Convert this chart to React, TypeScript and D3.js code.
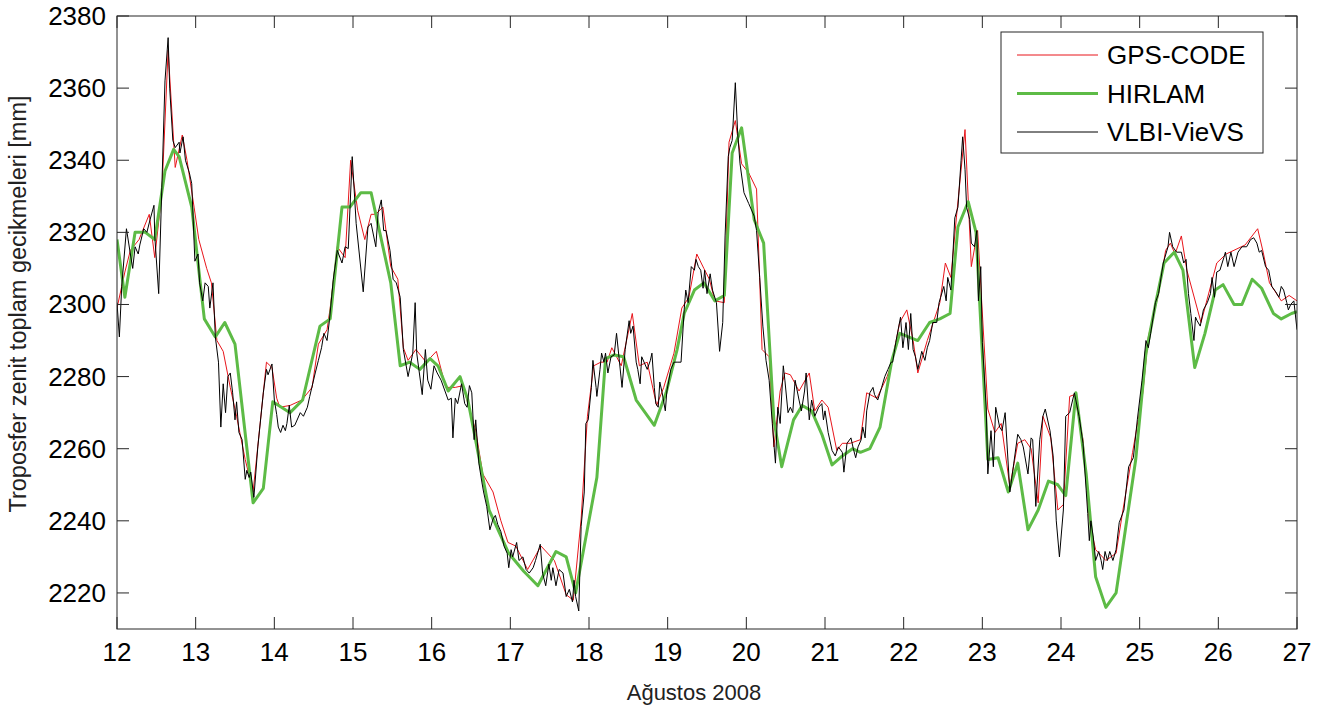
import * as d3 from 'd3'

// Ağustos 2008 — gün (ondalık) ve ZTD [mm]
const xTicks = d3.range(12, 28)
const yTicks = d3.range(2220, 2381, 20)

const gpsCode: [number, number][] = [
  [12.0, 2299], [12.1, 2309], [12.17, 2315], [12.28, 2318], [12.41, 2325], [12.48, 2313], [12.57, 2331],
  [12.65, 2370.5], [12.74, 2338], [12.83, 2347], [12.89, 2340], [12.98, 2327], [13.04, 2318], [13.14, 2310],
  [13.2, 2306], [13.27, 2290], [13.35, 2287], [13.44, 2277], [13.52, 2269], [13.63, 2257], [13.73, 2248],
  [13.9, 2284], [13.97, 2282.5], [14.03, 2274], [14.07, 2271.5], [14.2, 2272], [14.35, 2273.5], [14.48, 2277],
  [14.56, 2289], [14.67, 2293], [14.71, 2299], [14.8, 2316], [14.9, 2313], [14.97, 2340], [15.06, 2326],
  [15.15, 2318], [15.23, 2325], [15.29, 2325], [15.38, 2327], [15.48, 2310.5], [15.57, 2307], [15.64, 2288],
  [15.7, 2284.5], [15.8, 2287.5], [15.93, 2284], [16.06, 2287], [16.18, 2277], [16.3, 2277], [16.4, 2277.5],
  [16.46, 2272.5], [16.56, 2265], [16.65, 2253], [16.78, 2248], [16.88, 2240], [16.97, 2234], [17.07, 2233],
  [17.22, 2226.5], [17.39, 2233], [17.56, 2229], [17.71, 2219.5], [17.8, 2218], [17.9, 2240.5], [17.98, 2269],
  [18.06, 2283], [18.15, 2284], [18.23, 2284], [18.29, 2288], [18.41, 2283], [18.55, 2297.5], [18.64, 2283],
  [18.74, 2284], [18.86, 2272], [18.95, 2277], [19.08, 2286.5], [19.18, 2299], [19.27, 2302], [19.37, 2314],
  [19.46, 2310], [19.53, 2307], [19.6, 2301], [19.72, 2300.5], [19.78, 2345], [19.86, 2351], [19.94, 2339],
  [20.03, 2336.5], [20.13, 2332], [20.2, 2287.5], [20.29, 2285.5], [20.35, 2260.5], [20.43, 2276], [20.49, 2281],
  [20.56, 2280.5], [20.67, 2276], [20.8, 2281], [20.87, 2270.5], [20.96, 2273.5], [21.04, 2271.5], [21.15, 2259.5],
  [21.22, 2261.5], [21.32, 2261.5], [21.45, 2262.5], [21.53, 2275.5], [21.66, 2274], [21.79, 2280], [21.85, 2284],
  [21.95, 2295], [22.04, 2298.5], [22.12, 2290], [22.18, 2281], [22.3, 2290], [22.46, 2300.5], [22.53, 2311.5],
  [22.6, 2307.5], [22.67, 2324], [22.78, 2348.5], [22.86, 2310.5], [22.94, 2320.5], [23.07, 2271], [23.16, 2264.5],
  [23.24, 2267], [23.35, 2249.5], [23.45, 2261.5], [23.54, 2262.5], [23.62, 2260], [23.71, 2245], [23.77, 2269],
  [23.87, 2263], [23.96, 2243], [24.03, 2244.5], [24.11, 2274.5], [24.17, 2275], [24.28, 2262.5], [24.36, 2240],
  [24.44, 2232], [24.57, 2229], [24.7, 2231], [24.78, 2242], [24.91, 2259], [25.04, 2275.5], [25.11, 2291],
  [25.24, 2303], [25.33, 2315], [25.39, 2317], [25.45, 2314], [25.53, 2319], [25.6, 2309.5], [25.78, 2295],
  [25.98, 2311.5], [26.1, 2314], [26.34, 2316.5], [26.5, 2321], [26.57, 2314.5], [26.65, 2306], [26.8, 2301],
  [26.9, 2302.5], [27.0, 2301]
]

const hirlam: [number, number][] = [
  [12.0, 2318], [12.1, 2302], [12.23, 2320], [12.36, 2320], [12.48, 2318], [12.61, 2337], [12.72, 2343],
  [12.79, 2341], [12.95, 2327], [13.11, 2296], [13.25, 2291], [13.37, 2295], [13.5, 2289], [13.73, 2245],
  [13.86, 2249], [13.98, 2273], [14.2, 2270], [14.36, 2273.5], [14.58, 2294], [14.71, 2296], [14.86, 2327],
  [14.96, 2327], [15.1, 2331], [15.23, 2331], [15.48, 2306], [15.6, 2283], [15.72, 2284], [15.85, 2282],
  [15.98, 2285], [16.08, 2283], [16.21, 2276], [16.36, 2280], [16.46, 2273.5], [16.73, 2243], [16.98, 2231],
  [17.17, 2226], [17.35, 2222], [17.58, 2231.5], [17.71, 2230], [17.83, 2220], [18.1, 2252], [18.21, 2285],
  [18.32, 2286], [18.44, 2285.5], [18.6, 2273.5], [18.83, 2266.5], [18.98, 2275.5], [19.12, 2287.5],
  [19.21, 2297.5], [19.34, 2304], [19.46, 2306], [19.6, 2301], [19.72, 2302.5], [19.82, 2342], [19.94, 2349],
  [20.1, 2323.5], [20.22, 2317], [20.35, 2268], [20.45, 2255], [20.6, 2268], [20.71, 2272], [20.83, 2270.5],
  [20.96, 2264], [21.09, 2255.5], [21.22, 2258], [21.35, 2260], [21.45, 2259], [21.57, 2260], [21.7, 2266],
  [21.85, 2284.5], [21.95, 2292], [22.06, 2291], [22.18, 2290], [22.33, 2295], [22.46, 2296], [22.59, 2297.5],
  [22.69, 2321.5], [22.82, 2328.5], [22.92, 2320], [23.07, 2257], [23.2, 2257.5], [23.33, 2248], [23.45, 2256],
  [23.58, 2237.5], [23.71, 2243], [23.84, 2251], [23.96, 2250], [24.06, 2247], [24.19, 2275.5], [24.32, 2253],
  [24.44, 2224.5], [24.57, 2216], [24.7, 2220], [24.95, 2257], [25.08, 2286.5], [25.21, 2301], [25.31, 2311.5],
  [25.44, 2314.5], [25.55, 2309.5], [25.7, 2282.5], [25.83, 2292], [25.96, 2304], [26.06, 2305.5], [26.2, 2300],
  [26.3, 2300], [26.43, 2307], [26.55, 2304.5], [26.7, 2297.5], [26.8, 2296], [26.93, 2297.5], [27.0, 2298]
]

const vlbiVieVS: [number, number][] = [
  [12.0, 2300.5], [12.03, 2291], [12.06, 2305], [12.12, 2321], [12.17, 2314], [12.2, 2310], [12.23, 2316],
  [12.27, 2314], [12.29, 2316.5], [12.34, 2321], [12.38, 2320], [12.42, 2323.5], [12.47, 2327.5], [12.48, 2319],
  [12.53, 2303], [12.57, 2332.5], [12.61, 2362], [12.65, 2374], [12.67, 2360], [12.71, 2345.5], [12.74, 2343.5],
  [12.79, 2345], [12.8, 2342], [12.84, 2346.5], [12.87, 2340], [12.92, 2336.5], [12.95, 2333.5], [12.99, 2312],
  [13.03, 2314], [13.05, 2306], [13.09, 2301], [13.12, 2306], [13.16, 2305], [13.18, 2299], [13.22, 2306],
  [13.25, 2291], [13.29, 2284], [13.32, 2266], [13.35, 2278], [13.38, 2270], [13.41, 2280], [13.44, 2281],
  [13.47, 2275.5], [13.5, 2268], [13.52, 2273], [13.55, 2264.5], [13.59, 2262.5], [13.63, 2251.5], [13.65, 2254],
  [13.68, 2252], [13.7, 2253.5], [13.74, 2246.5], [13.79, 2260.5], [13.86, 2275.5], [13.9, 2282], [13.92, 2280.5],
  [13.97, 2283.5], [14.0, 2273.5], [14.03, 2269.5], [14.05, 2266], [14.08, 2264.5], [14.11, 2266.5], [14.14, 2265],
  [14.16, 2267], [14.19, 2272], [14.22, 2266], [14.26, 2266.5], [14.33, 2270], [14.37, 2269], [14.42, 2271.5],
  [14.45, 2274.5], [14.52, 2281], [14.56, 2284.5], [14.6, 2288], [14.63, 2292], [14.67, 2290], [14.7, 2295.5],
  [14.75, 2307], [14.8, 2315], [14.86, 2311.5], [14.9, 2316], [14.94, 2315.5], [14.99, 2341], [15.04, 2322.5],
  [15.13, 2303.5], [15.19, 2321.5], [15.23, 2322.5], [15.29, 2316], [15.32, 2325.5], [15.36, 2329], [15.39, 2320.5],
  [15.42, 2320.5], [15.47, 2315], [15.51, 2307], [15.55, 2306], [15.6, 2302], [15.64, 2287.5], [15.7, 2280],
  [15.76, 2286.5], [15.79, 2300.5], [15.81, 2286.5], [15.88, 2275], [15.92, 2287.5], [15.95, 2279], [15.99, 2276.5],
  [16.03, 2283], [16.07, 2281], [16.12, 2279], [16.21, 2273.5], [16.25, 2274], [16.27, 2263], [16.3, 2274],
  [16.33, 2272.5], [16.38, 2278], [16.42, 2272.5], [16.45, 2271.5], [16.48, 2277.5], [16.51, 2275.5], [16.54, 2262.5],
  [16.56, 2268], [16.6, 2256], [16.64, 2250.5], [16.66, 2248], [16.7, 2244], [16.74, 2237.5], [16.78, 2240.5],
  [16.81, 2241.5], [16.84, 2239], [16.88, 2237], [16.92, 2233], [16.96, 2231], [16.98, 2227], [17.01, 2232],
  [17.03, 2230], [17.08, 2234], [17.11, 2229], [17.16, 2230], [17.2, 2226.5], [17.24, 2225.5], [17.29, 2227],
  [17.32, 2229], [17.38, 2233.5], [17.41, 2225.5], [17.45, 2222], [17.49, 2228], [17.52, 2223.5], [17.54, 2227],
  [17.58, 2222], [17.62, 2226.5], [17.67, 2225.5], [17.71, 2219], [17.75, 2221], [17.79, 2217.5], [17.81, 2223.5],
  [17.83, 2219], [17.87, 2215], [17.9, 2238.5], [17.94, 2248], [17.96, 2267], [17.99, 2268], [18.03, 2277],
  [18.05, 2284.5], [18.09, 2277], [18.1, 2274.5], [18.14, 2282], [18.16, 2286.5], [18.19, 2284], [18.21, 2286.5],
  [18.24, 2281], [18.28, 2285.5], [18.32, 2286], [18.35, 2292], [18.39, 2283.5], [18.42, 2277], [18.46, 2287.5],
  [18.51, 2295.5], [18.53, 2292], [18.56, 2294], [18.6, 2284], [18.62, 2282], [18.65, 2278], [18.67, 2285.5],
  [18.71, 2283.5], [18.74, 2282], [18.78, 2284.5], [18.8, 2286.5], [18.83, 2277], [18.85, 2272.5], [18.88, 2271.5],
  [18.9, 2278.5], [18.93, 2275.5], [18.97, 2270.5], [18.99, 2276], [19.04, 2282], [19.08, 2284], [19.13, 2284],
  [19.17, 2284], [19.21, 2298.5], [19.23, 2304], [19.26, 2300.5], [19.3, 2310.5], [19.34, 2309.5], [19.36, 2312.5],
  [19.39, 2310.5], [19.42, 2309.5], [19.45, 2304.5], [19.47, 2309.5], [19.5, 2303], [19.54, 2308.5], [19.57, 2304],
  [19.62, 2300.5], [19.66, 2287], [19.7, 2295], [19.73, 2319], [19.77, 2341], [19.79, 2343.5], [19.82, 2345.5],
  [19.86, 2361.5], [19.89, 2347.5], [19.92, 2339], [19.97, 2331], [20.03, 2328], [20.1, 2324.5], [20.13, 2320.5],
  [20.17, 2307.5], [20.21, 2294], [20.25, 2284.5], [20.29, 2279], [20.33, 2267], [20.37, 2256], [20.4, 2271.5],
  [20.43, 2267], [20.47, 2283], [20.49, 2279], [20.53, 2270], [20.56, 2271.5], [20.59, 2270], [20.62, 2279],
  [20.67, 2273.5], [20.7, 2270.5], [20.74, 2276], [20.76, 2281], [20.8, 2268], [20.83, 2273.5], [20.87, 2269],
  [20.92, 2271.5], [20.96, 2272.5], [20.98, 2268], [21.0, 2270.5], [21.04, 2264.5], [21.09, 2259.5], [21.13, 2258],
  [21.17, 2260.5], [21.22, 2259], [21.24, 2253.5], [21.28, 2261.5], [21.33, 2263], [21.36, 2260], [21.39, 2257.5],
  [21.42, 2260.5], [21.46, 2262.5], [21.48, 2266], [21.51, 2263], [21.53, 2270.5], [21.57, 2275.5], [21.61, 2277],
  [21.63, 2275], [21.67, 2273.5], [21.72, 2277], [21.76, 2280], [21.8, 2282], [21.84, 2284], [21.86, 2284],
  [21.9, 2289.5], [21.93, 2293], [21.96, 2296.5], [21.99, 2288], [22.03, 2295], [22.06, 2287.5], [22.09, 2297.5],
  [22.12, 2287.5], [22.15, 2285.5], [22.18, 2282], [22.23, 2287], [22.27, 2284.5], [22.3, 2288], [22.33, 2290],
  [22.37, 2295], [22.42, 2295], [22.45, 2300.5], [22.47, 2302], [22.51, 2305], [22.54, 2301], [22.56, 2307.5],
  [22.6, 2304], [22.62, 2311.5], [22.65, 2324], [22.69, 2327], [22.73, 2340], [22.75, 2346.5], [22.78, 2337.5],
  [22.8, 2327], [22.84, 2323.5], [22.86, 2317], [22.9, 2316], [22.93, 2320.5], [22.95, 2301], [22.98, 2310.5],
  [23.0, 2289.5], [23.05, 2271], [23.07, 2253], [23.11, 2265], [23.14, 2255], [23.17, 2271.5], [23.22, 2266],
  [23.25, 2265], [23.29, 2270], [23.35, 2248], [23.4, 2256], [23.45, 2264], [23.49, 2262.5], [23.52, 2260.5],
  [23.54, 2258], [23.58, 2253], [23.62, 2263], [23.64, 2262.5], [23.68, 2244], [23.73, 2262.5], [23.77, 2269],
  [23.8, 2271], [23.86, 2265], [23.9, 2258], [23.94, 2240], [23.98, 2230], [24.03, 2243], [24.06, 2269],
  [24.11, 2270], [24.17, 2275.5], [24.23, 2269], [24.28, 2261.5], [24.32, 2248.5], [24.34, 2242], [24.36, 2234.5],
  [24.38, 2240], [24.41, 2235.5], [24.44, 2229], [24.48, 2231.5], [24.51, 2229], [24.53, 2226.5], [24.56, 2231.5],
  [24.59, 2229], [24.62, 2231.5], [24.66, 2229], [24.7, 2232], [24.74, 2239.5], [24.8, 2243], [24.86, 2255],
  [24.92, 2257.5], [24.97, 2268], [25.03, 2279], [25.08, 2290], [25.11, 2288], [25.14, 2292], [25.2, 2300.5],
  [25.24, 2303], [25.3, 2311.5], [25.36, 2316], [25.38, 2320], [25.42, 2316], [25.47, 2314.5], [25.53, 2314.5],
  [25.56, 2311.5], [25.59, 2312.5], [25.62, 2303], [25.65, 2297.5], [25.69, 2290], [25.71, 2296.5], [25.73, 2295.5],
  [25.77, 2294], [25.81, 2298.5], [25.86, 2300.5], [25.9, 2303], [25.92, 2307.5], [25.95, 2302], [25.98, 2309],
  [26.02, 2309.5], [26.07, 2313], [26.09, 2314.5], [26.12, 2310.5], [26.16, 2314.5], [26.2, 2310.5], [26.25, 2314.5],
  [26.3, 2316], [26.36, 2316], [26.41, 2318], [26.45, 2318.5], [26.49, 2317], [26.52, 2314.5], [26.55, 2315],
  [26.6, 2310.5], [26.64, 2309.5], [26.68, 2305], [26.73, 2303.5], [26.77, 2302], [26.8, 2305], [26.83, 2304],
  [26.87, 2300.5], [26.89, 2298.5], [26.92, 2300], [26.96, 2301], [27.0, 2293]
]

const seriesNames = ['GPS-CODE', 'HIRLAM', 'VLBI-VieVS']
const seriesColors = ['#e8151b', '#5dbb46', '#000000']
const seriesWidths = [1, 3, 1]

const W = 1323
const H = 713
const left = 117
const right = 1297
const top = 16
const bottom = 629
const font = '"Liberation Sans", Arial, sans-serif'

export default function App() {
  const x = d3.scaleLinear().domain([12, 27]).range([left, right])
  const y = d3.scaleLinear().domain([2210, 2380]).range([bottom, top])

  const line = d3.line<[number, number]>()
    .x(d => x(d[0]))
    .y(d => y(d[1]))

  const data = [gpsCode, hirlam, vlbiVieVS]
  const tickLen = 12

  return (
    <svg width={W} height={H} style={{ position: 'absolute', left: 0, top: 0, background: '#fff' }}
      fontFamily={font}>
      <defs>
        <clipPath id="plot">
          <rect x={left} y={top} width={right - left} height={bottom - top} />
        </clipPath>
      </defs>

      <g clipPath="url(#plot)">
        {data.map((d, i) => (
          <path key={seriesNames[i]} d={line(d) || ''} fill="none"
            stroke={seriesColors[i]} strokeWidth={seriesWidths[i]} strokeLinejoin="round" />
        ))}
      </g>

      {/* axes box with inward ticks */}
      <rect x={left} y={top} width={right - left} height={bottom - top} fill="none" stroke="#262626" strokeWidth={1} />
      {xTicks.map(t => (
        <g key={'x' + t}>
          <line x1={x(t)} x2={x(t)} y1={bottom} y2={bottom - tickLen} stroke="#262626" />
          <line x1={x(t)} x2={x(t)} y1={top} y2={top + tickLen} stroke="#262626" />
          <text x={x(t)} y={bottom + 32} textAnchor="middle" fontSize={26} fill="#000">{t}</text>
        </g>
      ))}
      {yTicks.map(t => (
        <g key={'y' + t}>
          <line x1={left} x2={left + tickLen} y1={y(t)} y2={y(t)} stroke="#262626" />
          <line x1={right} x2={right - tickLen} y1={y(t)} y2={y(t)} stroke="#262626" />
          <text x={left - 11} y={y(t) + 9} textAnchor="end" fontSize={26} fill="#000">{t}</text>
        </g>
      ))}

      <text x={694} y={700} textAnchor="middle" fontSize={22} fill="#222">Ağustos 2008</text>
      <text transform={`translate(26,304) rotate(-90)`} textAnchor="middle" fontSize={23.5} fill="#222">
        Troposfer zenit toplam gecikmeleri [mm]
      </text>

      {/* legend */}
      <rect x={1001} y={32} width={262} height={121} fill="#fff" stroke="#262626" />
      {seriesNames.map((n, i) => (
        <g key={'lg' + n}>
          <line x1={1017} x2={1098} y1={55 + i * 38.5} y2={55 + i * 38.5}
            stroke={seriesColors[i]} strokeWidth={seriesWidths[i]} />
          <text x={1107} y={64 + i * 38.5} fontSize={26} fill="#000">{n}</text>
        </g>
      ))}
    </svg>
  )
}
